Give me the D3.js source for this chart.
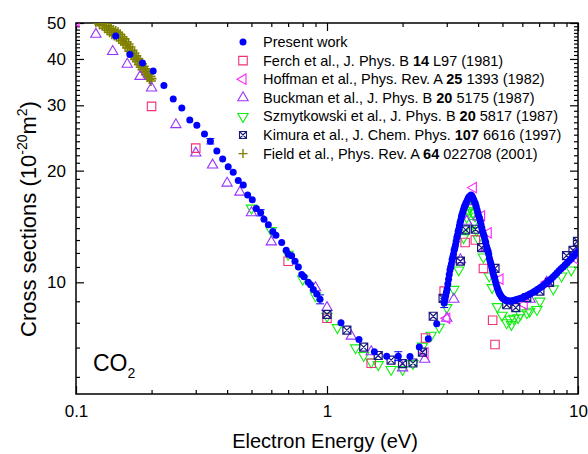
<!DOCTYPE html>
<html>
<head>
<meta charset="utf-8">
<script src="https://cdn.jsdelivr.net/npm/d3@7"></script>
<style>
  html, body { margin: 0; padding: 0; background: #fff; }
  svg { display: block; }
  svg text { font-family: "Liberation Sans", Arial, sans-serif; }
</style>
</head>
<body>
<svg id="chart" width="588" height="454"></svg>
<script>
// energy (eV), cross section (1e-20 m^2)
const presentWork = [
  [0.144, 46.1], [0.164, 41.1], [0.184, 39.0], [0.203, 37.1], [0.224, 33.9], [0.244, 31.2],
  [0.264, 29.5], [0.284, 27.4], [0.303, 26.5], [0.325, 25.1], [0.343, 24.0], [0.364, 22.6],
  [0.384, 21.5], [0.404, 20.5], [0.423, 19.8], [0.443, 18.8], [0.464, 18.3], [0.483, 17.2],
  [0.504, 16.7], [0.523, 15.8], [0.544, 15.4], [0.561, 14.8], [0.584, 14.3], [0.608, 13.7],
  [0.626, 13.4], [0.660, 12.8], [0.688, 12.2], [0.702, 11.9], [0.723, 11.8], [0.746, 11.4],
  [0.769, 11.0], [0.793, 10.5], [0.81, 10.35], [0.842, 10.0], [0.86, 9.85], [0.882, 9.57],
  [0.91, 9.3], [0.938, 9.0], [1.137, 7.78], [1.341, 7.01], [1.544, 6.50], [1.729, 6.32],
  [1.923, 6.32], [2.141, 6.31], [2.332, 6.69], [2.533, 7.04], [2.736, 7.73],
  [2.93, 8.8], [2.95, 9.0], [2.97, 9.2], [2.99, 9.4], [3.01, 9.6], [3.03, 9.9], [3.05, 10.2],
  [3.07, 10.5], [3.09, 10.8], [3.11, 11.0], [3.13, 11.2], [3.15, 11.5], [3.17, 11.7],
  [3.19, 11.9], [3.21, 12.2], [3.23, 12.4], [3.25, 12.6], [3.27, 12.9], [3.29, 13.2],
  [3.31, 13.4], [3.33, 13.7], [3.35, 13.9], [3.37, 14.2], [3.39, 14.5], [3.41, 14.7],
  [3.43, 15.0], [3.45, 15.2], [3.47, 15.4], [3.49, 15.6], [3.51, 15.8], [3.53, 16.0],
  [3.55, 16.1], [3.57, 16.3], [3.60, 16.5], [3.63, 16.7], [3.66, 16.9], [3.69, 17.0],
  [3.72, 17.1], [3.75, 17.2], [3.78, 17.1], [3.81, 16.9], [3.84, 16.7], [3.87, 16.5],
  [3.90, 16.3], [3.93, 16.0], [3.96, 15.7], [3.99, 15.4], [4.02, 15.1], [4.05, 14.9],
  [4.08, 14.6], [4.11, 14.3], [4.14, 14.0], [4.17, 13.7], [4.20, 13.5], [4.23, 13.3],
  [4.26, 13.0], [4.29, 12.8], [4.32, 12.5], [4.35, 12.3], [4.38, 12.1], [4.41, 11.9],
  [4.44, 11.6], [4.47, 11.4], [4.50, 11.2], [4.53, 11.0], [4.56, 10.8], [4.59, 10.6],
  [4.62, 10.4], [4.65, 10.3], [4.68, 10.1], [4.72, 9.9], [4.76, 9.7], [4.80, 9.55],
  [4.84, 9.4], [4.88, 9.3], [4.93, 9.2], [4.98, 9.1], [5.03, 9.05], [5.09, 9.0],
  [5.15, 8.95], [5.21, 8.92], [5.28, 8.9], [5.35, 8.9], [5.42, 8.9], [5.50, 8.92],
  [5.58, 8.95], [5.66, 8.98], [5.75, 9.0], [5.84, 9.03], [5.93, 9.06], [6.03, 9.1],
  [6.13, 9.15], [6.24, 9.2], [6.35, 9.26], [6.46, 9.32], [6.58, 9.38], [6.70, 9.45],
  [6.82, 9.52], [6.95, 9.6], [7.08, 9.68], [7.21, 9.76], [7.35, 9.86], [7.49, 9.96],
  [7.63, 10.07], [7.78, 10.2], [7.93, 10.32], [8.08, 10.45], [8.24, 10.6], [8.40, 10.74],
  [8.56, 10.88], [8.72, 11.0], [8.89, 11.15], [9.06, 11.3], [9.24, 11.45], [9.42, 11.6],
  [9.61, 11.8], [9.80, 11.95], [10.0, 12.1]
];
// energy, lower, upper
const presentErrors = [
  [0.343, 23.6, 24.4], [0.544, 15.1, 15.7], [0.938, 8.75, 9.25],
  [1.923, 6.15, 6.5], [2.93, 8.55, 9.05]
];
const ferch = [
  [0.2, 29.8], [0.3, 23.0], [0.7, 11.4], [1.0, 8.0], [1.5, 6.05], [2.47, 7.08], [2.93, 9.47],
  [3.55, 12.8], [3.9, 13.0], [4.2, 10.9], [4.57, 7.9], [4.67, 6.8]
];
const hoffman = [
  [0.1, 50.5], [2.46, 6.45], [3.0, 8.0], [3.83, 18.0], [4.13, 15.1], [4.39, 13.6],
  [4.89, 10.2], [6.11, 8.72], [7.5, 10.0], [9.9, 11.5]
];
const buckman = [
  [0.12, 46.6], [0.14, 41.9], [0.16, 38.7], [0.18, 35.9], [0.2, 33.4], [0.25, 26.6],
  [0.3, 22.3], [0.35, 20.7], [0.4, 18.5], [0.45, 17.5], [0.5, 15.4], [0.6, 12.85],
  [0.9, 9.67], [1.0, 8.55], [1.25, 7.16], [1.5, 6.5], [2.0, 5.88], [2.45, 6.2],
  [3.0, 8.0], [3.2, 9.0], [3.4, 11.5], [3.6, 14.6], [3.8, 16.5], [4.0, 15.0], [4.3, 12.4],
  [6.44, 9.0], [7.5, 10.0], [9.55, 11.8]
];
const szmytkowski = [
  [0.5, 15.85], [0.6, 13.8], [0.7, 11.9], [0.8, 10.2], [0.9, 9.2], [1.0, 8.1], [1.1, 7.55],
  [1.3, 6.66], [1.4, 6.35], [1.5, 6.1], [1.6, 6.0], [1.8, 5.82], [2.0, 5.82], [2.2, 6.04],
  [2.4, 6.73], [2.6, 7.2], [2.8, 7.57], [3.0, 8.55], [3.2, 9.57], [3.35, 10.8], [3.5, 13.2],
  [3.55, 14.0], [3.6, 15.0], [3.65, 15.6], [3.7, 16.0], [3.76, 16.1], [3.8, 15.4],
  [3.85, 14.5], [3.89, 15.1], [3.95, 13.8], [4.0, 13.1], [4.2, 11.7], [4.43, 10.4],
  [4.55, 9.68], [4.77, 8.6], [4.98, 8.15], [5.2, 7.78], [5.36, 7.95], [5.43, 7.7],
  [5.55, 8.0], [5.77, 8.03], [5.9, 8.2], [6.26, 8.28], [6.42, 8.36], [6.86, 8.45],
  [7.05, 8.9], [7.97, 9.6], [8.6, 10.4], [9.4, 10.8]
];
const kimura = [
  [1.0, 8.2], [1.2, 7.43], [1.4, 6.69], [1.6, 6.35], [1.8, 6.17], [2.0, 6.04], [2.2, 6.06],
  [2.4, 6.48], [2.65, 8.1], [2.9, 9.05], [3.4, 11.4], [3.57, 13.85], [3.9, 13.9],
  [4.13, 12.4], [4.67, 10.9], [5.2, 8.7], [5.65, 8.55], [6.25, 9.09], [7.05, 9.47],
  [7.7, 10.0], [9.0, 11.8], [9.55, 12.2], [9.95, 12.9]
];
const field = [
  [0.118, 51.5], [0.120, 50.2], [0.121, 52.0], [0.123, 50.8], [0.124, 49.5], [0.126, 51.0],
  [0.127, 49.2], [0.129, 50.1], [0.130, 48.4], [0.132, 49.3], [0.133, 47.8], [0.135, 48.9],
  [0.136, 47.2], [0.138, 48.3], [0.139, 46.6], [0.141, 47.9], [0.142, 46.3], [0.144, 47.6],
  [0.145, 45.9], [0.147, 47.2], [0.148, 45.4], [0.150, 46.6], [0.151, 44.8], [0.153, 45.9],
  [0.154, 44.1], [0.156, 45.3], [0.157, 43.6], [0.159, 44.5], [0.160, 42.8], [0.162, 43.9],
  [0.163, 42.0], [0.165, 43.1], [0.166, 41.3], [0.168, 42.2], [0.169, 40.6], [0.171, 41.5],
  [0.172, 39.9], [0.174, 40.8], [0.175, 39.3], [0.177, 40.1], [0.178, 38.6], [0.180, 39.5],
  [0.181, 38.0], [0.183, 38.8], [0.184, 37.4], [0.186, 38.2], [0.187, 36.9], [0.189, 37.6],
  [0.190, 36.3], [0.192, 37.0], [0.193, 35.8], [0.195, 36.4], [0.196, 35.3], [0.198, 35.9],
  [0.199, 34.9], [0.200, 35.4]
];

const xMajor = [0.1, 1, 10];
const xMinor = [0.2, 0.3, 0.4, 0.5, 0.6, 0.7, 0.8, 0.9, 2, 3, 4, 5, 6, 7, 8, 9];
const yMajor = [10, 20, 30, 40, 50];
const yMinor = [5.56, 6.67, 7.78, 8.89,
  11, 12, 13, 14, 15, 16, 17, 18, 19, 21, 22, 23, 24, 25, 26, 27, 28, 29,
  31, 32, 33, 34, 35, 36, 37, 38, 39, 41, 42, 43, 44, 45, 46, 47, 48, 49];

const legendItems = [
  { key: 'present', parts: [['Present work']] },
  { key: 'ferch', parts: [['Ferch et al., J. Phys. B '], ['14', true], [' L97 (1981)']] },
  { key: 'hoffman', parts: [['Hoffman et al., Phys. Rev. A '], ['25', true], [' 1393 (1982)']] },
  { key: 'buckman', parts: [['Buckman et al., J. Phys. B '], ['20', true], [' 5175 (1987)']] },
  { key: 'szmyt', parts: [['Szmytkowski et al., J. Phys. B '], ['20', true], [' 5817 (1987)']] },
  { key: 'kimura', parts: [['Kimura et al., J. Chem. Phys. '], ['107', true], [' 6616 (1997)']] },
  { key: 'field', parts: [['Field et al., Phys. Rev. A '], ['64', true], [' 022708 (2001)']] }
];

(function () {
  'use strict';

  const font = '"Liberation Sans", Arial, sans-serif';
  const left = 76, right = 578, top = 23, bottom = 394;
  const x = d3.scaleLog().domain([0.1, 10]).range([left, right]);
  const y = d3.scaleLog().domain([5, 50]).range([bottom, top]);

  const colors = {
    present: '#0000ff',
    ferch: '#f0307a',
    hoffman: '#ff22ff',
    buckman: '#9933ff',
    szmyt: '#11ee11',
    kimura: '#1a1a80',
    field: '#808000'
  };

  const svg = d3.select('#chart').attr('font-family', font);

  svg.append('defs').append('clipPath').attr('id', 'plot-clip')
    .append('rect')
    .attr('x', left).attr('y', top)
    .attr('width', right - left).attr('height', bottom - top);

  // axes (ticks point inward)
  const addAxis = (axis, tx, ty, cls) => {
    const g = svg.append('g').attr('class', cls)
      .attr('transform', `translate(${tx},${ty})`)
      .call(axis)
      .attr('font-family', font)
      .attr('font-size', 17);
    g.select('.domain').remove();
    g.selectAll('line').attr('stroke', '#000').attr('stroke-width', 1.2);
    g.selectAll('text').attr('fill', '#000');
    return g;
  };
  const fmt = (d) => String(d);

  addAxis(d3.axisBottom(x).tickValues(xMajor).tickSize(-8).tickPadding(11).tickFormat(fmt), 0, bottom, 'x-major');
  addAxis(d3.axisBottom(x).tickValues(xMinor).tickSize(-4).tickFormat(''), 0, bottom, 'x-minor');
  addAxis(d3.axisTop(x).tickValues(xMajor).tickSize(-8).tickFormat(''), 0, top, 'x-top');
  addAxis(d3.axisTop(x).tickValues(xMinor).tickSize(-4).tickFormat(''), 0, top, 'x-top-minor');

  addAxis(d3.axisLeft(y).tickValues(yMajor).tickSize(-8).tickPadding(10).tickFormat(fmt), left, 0, 'y-major');
  addAxis(d3.axisLeft(y).tickValues(yMinor).tickSize(-4).tickFormat(''), left, 0, 'y-minor');
  addAxis(d3.axisRight(y).tickValues(yMajor).tickSize(-8).tickFormat(''), right, 0, 'y-right');
  addAxis(d3.axisRight(y).tickValues(yMinor).tickSize(-4).tickFormat(''), right, 0, 'y-right-minor');

  svg.append('rect')
    .attr('x', left).attr('y', top)
    .attr('width', right - left).attr('height', bottom - top)
    .attr('fill', 'none').attr('stroke', '#000').attr('stroke-width', 1.5);

  // markers
  const tri = d3.symbol().type(d3.symbolTriangle).size(46)();
  const sq = d3.symbol().type(d3.symbolSquare).size(72)();

  const plot = svg.append('g').attr('clip-path', 'url(#plot-clip)');

  const drawSymbols = (data, path, color, rotate, sw) => {
    plot.append('g').selectAll('path').data(data).join('path')
      .attr('d', path)
      .attr('transform', (d) => `translate(${x(d[0])},${y(d[1])}) rotate(${rotate})`)
      .attr('fill', 'none')
      .attr('stroke', color)
      .attr('stroke-width', sw);
  };

  const boxX = (s) => `M${-s},${-s}H${s}V${s}H${-s}Z M${-s},${-s}L${s},${s} M${s},${-s}L${-s},${s}`;
  const plus = (s) => `M${-s},0H${s} M0,${-s}V${s}`;

  drawSymbols(field, plus(5), colors.field, 0, 1.6);
  drawSymbols(szmytkowski, tri, colors.szmyt, 180, 1.1);
  drawSymbols(buckman, tri, colors.buckman, 0, 1.1);
  drawSymbols(hoffman, tri, colors.hoffman, -90, 1.1);
  drawSymbols(ferch, sq, colors.ferch, 0, 1.1);
  drawSymbols(kimura, boxX(4), colors.kimura, 0, 1.2);

  // error bars for present work
  const eb = plot.append('g').attr('stroke', colors.present).attr('stroke-width', 1);
  eb.selectAll('line.v').data(presentErrors).join('line').attr('class', 'v')
    .attr('x1', (d) => x(d[0])).attr('x2', (d) => x(d[0]))
    .attr('y1', (d) => y(d[1])).attr('y2', (d) => y(d[2]));
  eb.selectAll('line.lo').data(presentErrors).join('line').attr('class', 'lo')
    .attr('x1', (d) => x(d[0]) - 4).attr('x2', (d) => x(d[0]) + 4)
    .attr('y1', (d) => y(d[1])).attr('y2', (d) => y(d[1]));
  eb.selectAll('line.hi').data(presentErrors).join('line').attr('class', 'hi')
    .attr('x1', (d) => x(d[0]) - 4).attr('x2', (d) => x(d[0]) + 4)
    .attr('y1', (d) => y(d[2])).attr('y2', (d) => y(d[2]));

  plot.append('g').selectAll('circle').data(presentWork).join('circle')
    .attr('cx', (d) => x(d[0]))
    .attr('cy', (d) => y(d[1]))
    .attr('r', 3.5)
    .attr('fill', colors.present);

  // legend
  const legX = 243, legTextX = 263, legY = 42, legStep = 18.6;
  const legend = svg.append('g');
  legendItems.forEach((item, i) => {
    const cy = legY + i * legStep;
    const c = colors[item.key];
    const m = legend.append('g').attr('transform', `translate(${legX},${cy})`);
    if (item.key === 'present') {
      m.append('circle').attr('r', 3.5).attr('fill', c);
    } else {
      let d = sq, rot = 0;
      if (item.key === 'hoffman') { d = tri; rot = -90; }
      if (item.key === 'buckman') { d = tri; }
      if (item.key === 'szmyt') { d = tri; rot = 180; }
      if (item.key === 'kimura') d = boxX(3.5);
      if (item.key === 'field') d = plus(4.5);
      m.append('path').attr('d', d).attr('transform', `rotate(${rot})`)
        .attr('fill', 'none').attr('stroke', c)
        .attr('stroke-width', item.key === 'field' ? 1.4 : 1.1);
    }
    const t = legend.append('text')
      .attr('x', legTextX).attr('y', cy + 5)
      .attr('font-size', 14.5).attr('fill', '#000');
    item.parts.forEach(([s, bold]) => {
      t.append('tspan').attr('font-weight', bold ? 'bold' : null).text(s);
    });
  });

  // CO2 label
  const co = svg.append('text').attr('x', 93).attr('y', 371)
    .attr('font-size', 23).attr('fill', '#000');
  co.append('tspan').text('CO');
  co.append('tspan').attr('font-size', 14).attr('dy', 7).text('2');

  // axis titles
  svg.append('text')
    .attr('x', (left + right) / 2 - 2).attr('y', 448)
    .attr('text-anchor', 'middle')
    .attr('font-size', 20).attr('fill', '#000')
    .text('Electron Energy (eV)');

  const yt = svg.append('text')
    .attr('transform', 'translate(36,219) rotate(-90)')
    .attr('text-anchor', 'middle')
    .attr('font-size', 22).attr('fill', '#000');
  yt.append('tspan').text('Cross sections (10');
  yt.append('tspan').attr('font-size', 14).attr('dy', -9).text('-20');
  yt.append('tspan').attr('dy', 9).text('m');
  yt.append('tspan').attr('font-size', 14).attr('dy', -9).text('2');
  yt.append('tspan').attr('dy', 9).text(')');
})();
</script>
</body>
</html>
